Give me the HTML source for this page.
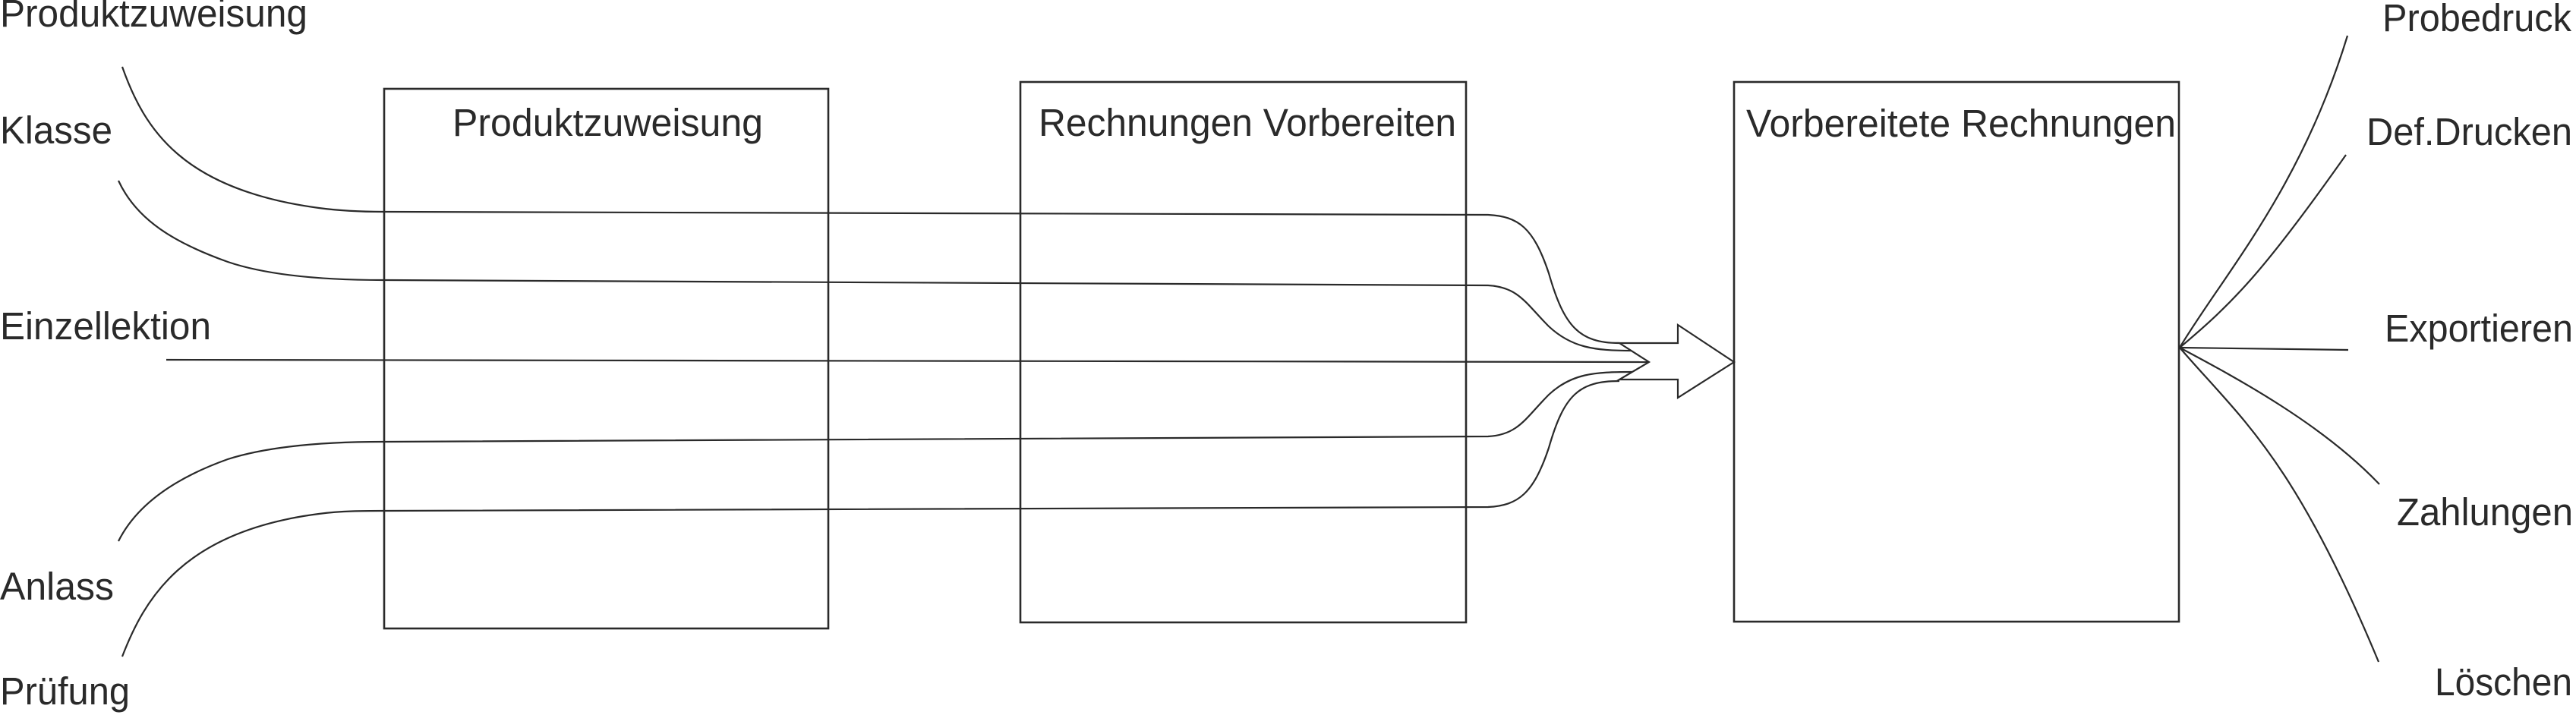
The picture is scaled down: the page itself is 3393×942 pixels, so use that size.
<!DOCTYPE html>
<html><head><meta charset="utf-8"><style>html,body{margin:0;padding:0;background:#fff}svg{display:block}</style></head>
<body>
<svg width="3393" height="942" viewBox="0 0 3393 942" xmlns="http://www.w3.org/2000/svg">
<g fill="none" stroke="#2a2a2a" stroke-width="2.6">
<rect x="506" y="117" width="585" height="711"/>
<rect x="1344" y="108" width="587" height="712"/>
<rect x="2284" y="108" width="586" height="711"/>
</g>
<g fill="none" stroke="#2a2a2a" stroke-width="2.2">
<path d="M161,88 C190,170 240,250 420,274 C450,278 480,279 505,279 L1960,283 C2000,285 2020,300 2040,360 C2060,430 2080,452 2133,452"/>
<path d="M156,238 C180,290 230,320 300,345 C350,362 420,369 505,369 L1960,376 C2000,378 2010,400 2040,430 C2070,458 2100,462 2150,462"/>
<path d="M219,474 L2172,477"/>
<path d="M156,713 C180,665 230,630 300,605 C350,589 420,582 505,582 L1960,575 C2000,573 2010,550 2040,520 C2070,492 2100,490 2150,490"/>
<path d="M161,865 C190,790 240,700 420,677 C450,673 480,673 505,673 L1960,668 C2000,666 2020,650 2040,590 C2060,520 2080,502 2133,502"/>
<polygon points="2133,452 2210,452 2210,428 2284,477 2210,524 2210,500 2133,500 2172,477" fill="#fff"/>
<path d="M2871,458 C2930,360 3030,250 3092,47"/>
<path d="M2871,458 C2940,400 2980,360 3090,204"/>
<path d="M2871,458 L3093,461"/>
<path d="M2871,458 C2950,500 3060,560 3134,638"/>
<path d="M2871,458 C2950,550 3020,600 3133,872"/>
</g>
<g font-family="Liberation Sans, Arial, sans-serif" font-size="51" fill="#2a2a2a">
<text x="0" y="35" textLength="405" lengthAdjust="spacingAndGlyphs">Produktzuweisung</text>
<text x="0" y="189" textLength="148" lengthAdjust="spacingAndGlyphs">Klasse</text>
<text x="0" y="447" textLength="278" lengthAdjust="spacingAndGlyphs">Einzellektion</text>
<text x="0" y="790" textLength="150" lengthAdjust="spacingAndGlyphs">Anlass</text>
<text x="0" y="928" textLength="171" lengthAdjust="spacingAndGlyphs">Prüfung</text>
<text x="596" y="179" textLength="409" lengthAdjust="spacingAndGlyphs">Produktzuweisung</text>
<text x="1368" y="179" textLength="550" lengthAdjust="spacingAndGlyphs">Rechnungen Vorbereiten</text>
<text x="2300" y="180" textLength="566" lengthAdjust="spacingAndGlyphs">Vorbereitete Rechnungen</text>
<text x="3138" y="41" textLength="249" lengthAdjust="spacingAndGlyphs">Probedruck</text>
<text x="3117" y="191" textLength="271" lengthAdjust="spacingAndGlyphs">Def.Drucken</text>
<text x="3141" y="450" textLength="248" lengthAdjust="spacingAndGlyphs">Exportieren</text>
<text x="3157" y="692" textLength="232" lengthAdjust="spacingAndGlyphs">Zahlungen</text>
<text x="3207" y="916" textLength="181" lengthAdjust="spacingAndGlyphs">Löschen</text>
</g>
</svg>
</body></html>
